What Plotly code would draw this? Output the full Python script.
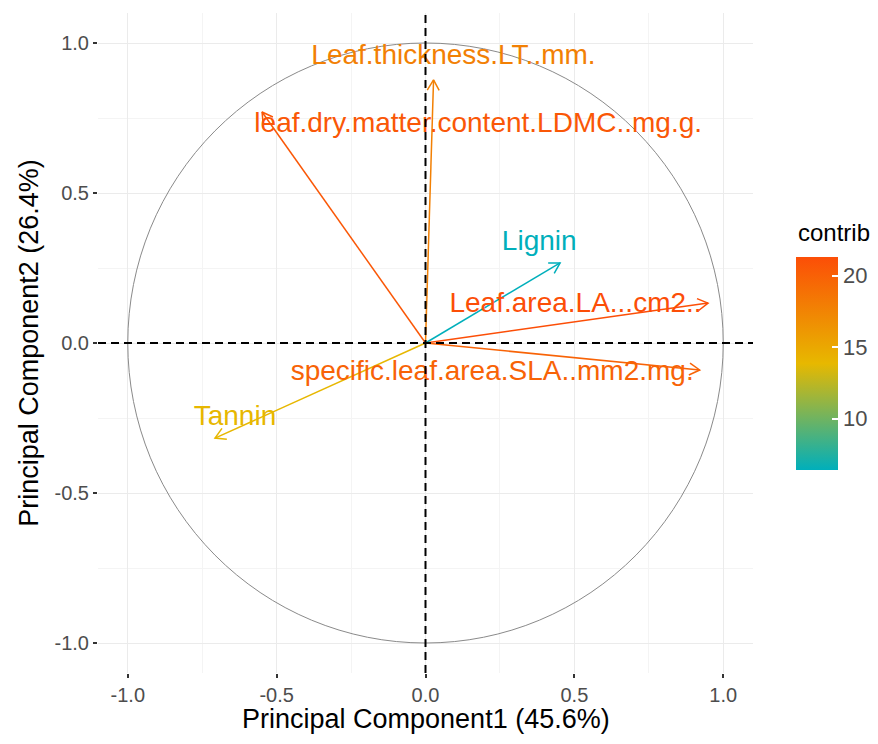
import math
import plotly.graph_objects as go

# ---- data ----
variables = [
    "Leaf.thickness.LT..mm.",
    "leaf.dry.matter.content.LDMC..mg.g.",
    "Lignin",
    "Leaf.area.LA...cm2..",
    "specific.leaf.area.SLA..mm2.mg.",
    "Tannin",
]
pc1 = [0.027, -0.549, 0.452, 0.949, 0.921, -0.707]
pc2 = [0.877, 0.770, 0.267, 0.133, -0.090, -0.317]
contrib = [17.8, 20.7, 6.4, 21.3, 19.8, 13.9]
# label anchor points (data coordinates) as placed in the reference
label_x = [0.094, 0.177, 0.382, 0.504, 0.224, -0.640]
label_y = [0.953, 0.727, 0.333, 0.127, -0.100, -0.250]

axis_ticks = [-1.0, -0.5, 0.0, 0.5, 1.0]
cbar_ticks = [10, 15, 20]
x_title = "Principal Component1 (45.6%)"
y_title = "Principal Component2 (26.4%)"
legend_title = "contrib"

# ---- styling ----
stops = [(0.0, (0x00, 0xAF, 0xBB)), (0.5, (0xE7, 0xB8, 0x00)), (1.0, (0xFC, 0x4E, 0x07))]
colorscale = [[s, "rgb(%d,%d,%d)" % c] for s, c in stops]
cmin, cmax = min(contrib), max(contrib)


def color_for(v):
    t = (v - cmin) / (cmax - cmin)
    for (s0, c0), (s1, c1) in zip(stops[:-1], stops[1:]):
        if s0 <= t <= s1:
            f = (t - s0) / (s1 - s0)
            c = [round(a + (b - a) * f) for a, b in zip(c0, c1)]
            return "rgb(%d,%d,%d)" % tuple(c)
    return "rgb(%d,%d,%d)" % stops[-1][1]


FONT = "Liberation Sans, Arial, sans-serif"
head_len = 0.04
head_ang = math.radians(30)

fig = go.Figure()

for name, x, y, c in zip(variables, pc1, pc2, contrib):
    col = color_for(c)
    th = math.atan2(y, x)
    hx1 = x - head_len * math.cos(th - head_ang)
    hy1 = y - head_len * math.sin(th - head_ang)
    hx2 = x - head_len * math.cos(th + head_ang)
    hy2 = y - head_len * math.sin(th + head_ang)
    fig.add_trace(go.Scatter(
        x=[0, x, None, hx1, x, hx2],
        y=[0, y, None, hy1, y, hy2],
        mode="lines",
        line=dict(color=col, width=1.5),
        hoverinfo="skip",
        showlegend=False,
    ))

fig.add_trace(go.Scatter(
    x=label_x, y=label_y, text=variables, mode="text",
    textposition="middle center",
    textfont=dict(family=FONT, size=28, color=[color_for(c) for c in contrib]),
    hoverinfo="skip", showlegend=False,
))

# colour bar carrier
fig.add_trace(go.Scatter(
    x=pc1, y=pc2, mode="markers",
    marker=dict(
        size=1, opacity=0, color=contrib, colorscale=colorscale, cmin=cmin, cmax=cmax,
        showscale=True,
        colorbar=dict(
            xref="paper", yref="paper",
            x=1.0656, xanchor="left", xpad=0,
            y=0.469, yanchor="middle", ypad=0,
            len=213, lenmode="pixels", thickness=42,
            outlinewidth=0,
            tickvals=cbar_ticks,
            ticks="inside", ticklen=6, tickcolor="white", tickwidth=1.5,
            tickfont=dict(family=FONT, size=22, color="#4D4D4D"),
        ),
    ),
    hoverinfo="skip", showlegend=False,
))

fig.add_annotation(
    text=legend_title, xref="paper", yref="paper", x=1.0656, y=0.668,
    xanchor="left", yanchor="middle", showarrow=False,
    font=dict(family=FONT, size=24, color="black"),
)
fig.add_annotation(
    text=x_title, xref="paper", yref="paper", x=0.5, y=-0.070,
    xanchor="center", yanchor="middle", showarrow=False,
    font=dict(family=FONT, size=27, color="black"),
)

# correlation circle and zero lines
fig.add_shape(type="circle", xref="x", yref="y", x0=-1, y0=-1, x1=1, y1=1,
              line=dict(color="#8A8A8A", width=1), layer="between")
fig.add_shape(type="line", xref="paper", yref="y", x0=0, x1=1, y0=0, y1=0,
              line=dict(color="black", width=2, dash="8px,5px"), layer="above")
fig.add_shape(type="line", xref="x", yref="paper", x0=0, x1=0, y0=0, y1=1,
              line=dict(color="black", width=2, dash="8px,5px"), layer="above")

axis_common = dict(
    range=[-1.1, 1.1], tickvals=axis_ticks, ticktext=["%.1f" % v for v in axis_ticks],
    showgrid=True, gridcolor="#EBEBEB", gridwidth=1.2,
    minor=dict(dtick=0.25, showgrid=True, gridcolor="#F4F4F4", gridwidth=1),
    zeroline=False, showline=False,
    ticks="outside", ticklen=4, tickwidth=1.5, tickcolor="#333333",
    tickfont=dict(family=FONT, size=20, color="#4D4D4D"),
)

# the page body adds an 8px offset, so the figure is 8px smaller than the window
fig.update_layout(
    width=870, height=736,
    margin=dict(l=90, r=125, t=5, b=71, autoexpand=False),
    paper_bgcolor="white", plot_bgcolor="white",
    font=dict(family=FONT),
    xaxis=dict(axis_common),
    yaxis=dict(axis_common, title=dict(text=y_title, font=dict(family=FONT, size=27, color="black"), standoff=8)),
)

fig.write_html("out.html")
